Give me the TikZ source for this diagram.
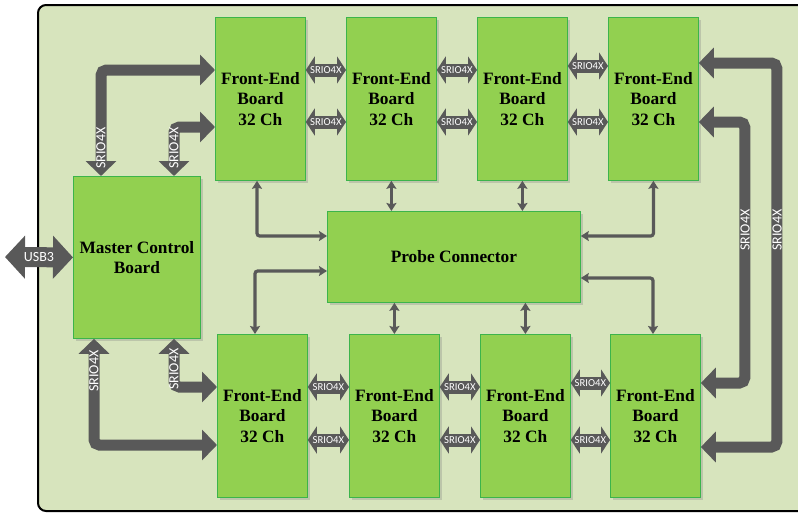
\documentclass[tikz,border=0pt]{standalone}
\usepackage{fontspec}
\setmainfont{Liberation Serif}
\newfontfamily\lblfont{Carlito}
\usetikzlibrary{arrows.meta,calc,shadows}
\definecolor{framefill}{HTML}{D7E4BD}
\definecolor{boardgreen}{HTML}{92D050}
\definecolor{boardedge}{HTML}{3CB44B}
\definecolor{arrowgray}{HTML}{595959}

\begin{document}
\begin{tikzpicture}[x=0.75pt,y=-0.75pt,
  board/.style={draw=boardedge,fill=boardgreen,line width=0.6pt,align=center,
    font=\fontsize{13}{15.5}\selectfont\bfseries,anchor=north west,inner sep=2pt,
    drop shadow={shadow xshift=2pt,shadow yshift=-2pt,opacity=0.3}},
  feboard/.style={board,minimum width=67.5pt,minimum height=122.25pt},
  bigbus/.style={draw=arrowgray,line width=8.25pt,rounded corners=4pt,
    {Triangle[length=11.25pt,width=22.5pt]}-{Triangle[length=11.25pt,width=22.5pt]}},
  linkbus/.style={draw=arrowgray,line width=9.75pt,
    {Triangle[length=6.75pt,width=20.25pt]}-{Triangle[length=6.75pt,width=20.25pt]}},
  usbbus/.style={draw=arrowgray,line width=15pt,
    {Triangle[length=15pt,width=31.5pt]}-{Triangle[length=15pt,width=31.5pt]}},
  probeline/.style={draw=arrowgray,line width=2.4pt,rounded corners=2pt,
    {Stealth[length=6pt,width=7.5pt,inset=1pt]}-{Stealth[length=6pt,width=7.5pt,inset=1pt]}},
  srio/.style={text=white,font=\lblfont\fontsize{8}{8}\selectfont,inner sep=0pt},
  bigsrio/.style={text=white,font=\lblfont\fontsize{10.5}{10.5}\selectfont,inner sep=0pt,rotate=90}]
  \useasboundingbox (0,0) rectangle (798,514);
  \draw[line width=1.5pt,fill=framefill,rounded corners=6pt] (38,5) rectangle (820,511);

  % boards
  \foreach \n/\x/\y in {1/215/17,2/346/17,3/477/17,4/608/17,5/217/334,6/349/334,7/480/334,8/610/334}{
    \node[feboard] (fe\n) at (\x,\y) {Front-End\\Board\\32 Ch};
  }
  \node[board,minimum width=95.25pt,minimum height=121.5pt] (mcb) at (73,176) {Master Control\\Board};
  \node[board,minimum width=189.75pt,minimum height=68.25pt] (pc) at (327,211) {Probe Connector};

  % links between neighbouring boards
  \foreach \a/\b/\dy/\dz in {1/2/53/105,2/3/53/105,3/4/49/105,5/6/53/106,6/7/53/106,7/8/49/106}{
    \draw[linkbus] ($(fe\a.north east)+(0,\dy)$) -- node[srio] (su\a) {SRIO4X} ($(fe\b.north west)+(0,\dy)$);
    \draw[linkbus] ($(fe\a.north east)+(0,\dz)$) -- node[srio] (sl\a) {SRIO4X} ($(fe\b.north west)+(0,\dz)$);
  }

  % master control and ring buses
  \draw[bigbus] ($(mcb.north west)+(28,0)$) |- ($(fe1.north west)+(0,53)$);
  \draw[bigbus] ($(mcb.north west)+(101,0)$) |- ($(fe1.north west)+(0,110)$);
  \draw[bigbus] ($(mcb.south west)+(21,0)$) |- ($(fe5.north west)+(0,111)$);
  \draw[bigbus] ($(mcb.south west)+(101,0)$) |- ($(fe5.north west)+(0,53)$);
  \draw[bigbus] ($(fe4.north east)+(0,46)$) -- ++(78,0) |- ($(fe8.north east)+(0,113)$);
  \draw[bigbus] ($(fe4.north east)+(0,105)$) -- ++(46,0) |- ($(fe8.north east)+(0,49)$);
  \node[bigsrio] (ba) at (101,148) {SRIO4X};
  \node[bigsrio] (bb) at (174,148) {SRIO4X};
  \node[bigsrio] (bc) at (94,371) {SRIO4X};
  \node[bigsrio] (bd) at (174,369) {SRIO4X};
  \node[bigsrio] (be) at (777,230) {SRIO4X};
  \node[bigsrio] (bf) at (745,230) {SRIO4X};

  % usb
  \coordinate (usbend) at (5,257);
  \draw[usbbus] (usbend) -- node[bigsrio,rotate=-90] (usb) {USB3} (mcb.west);

  % probe connector
  \draw[probeline] ($(fe1.south west)+(42,0)$) |- ($(pc.north west)+(0,25)$);
  \draw[probeline] (fe2.south) -- (fe2.south |- pc.north);
  \draw[probeline] (fe3.south) -- (fe3.south |- pc.north);
  \draw[probeline] (fe4.south) |- ($(pc.north east)+(0,25)$);
  \draw[probeline] ($(pc.north west)+(0,60)$) -| ($(fe5.north west)+(38,0)$);
  \draw[probeline] (fe6.north |- pc.south) -- (fe6.north);
  \draw[probeline] (fe7.north |- pc.south) -- (fe7.north);
  \draw[probeline] ($(pc.north east)+(0,67)$) -| ($(fe8.north west)+(43,0)$);
\end{tikzpicture}
\end{document}
